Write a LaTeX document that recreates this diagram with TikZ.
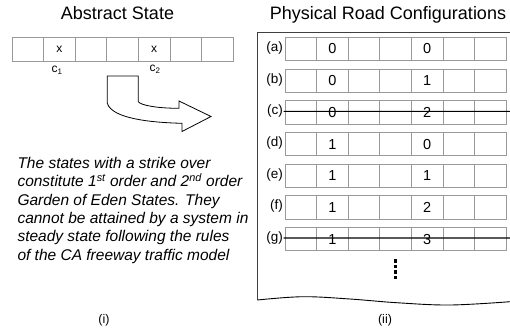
\documentclass[tikz,border=0pt]{standalone}
\usepackage{fontspec}
\setmainfont{Liberation Sans}
\begin{document}
\begin{tikzpicture}[x=1pt,y=-1pt,
  cell/.style={draw=black!40, line width=0.8pt, minimum width=31.6pt, minimum height=23.5pt, inner sep=0pt, outer sep=0pt, font=\fontsize{14.5}{16}\selectfont},
  acell/.style={cell, font=\fontsize{12}{14}\selectfont},
  title/.style={font=\fontsize{18}{20}\selectfont, anchor=base, inner sep=0pt},
  rowlab/.style={font=\fontsize{13.5}{15}\selectfont, anchor=east, inner sep=0.5pt},
  strike/.style={draw=black, line width=1.1pt},
  frame/.style={draw=black!75, line width=1.4pt},
  dotsq/.style={fill=black, draw=none, minimum size=3.5pt, inner sep=0pt}]
\useasboundingbox (0,0) rectangle (510,332);

% titles
\node[title] (t1) at (117.5,19) {Abstract State};
\node[title] (t2) at (388,19) {Physical Road Configurations};

% abstract state
\foreach \i in {1,...,7} {
  \node[acell] (s\i) at ({12+31.6*(\i-0.5)},49.5) {};
}
\node[font=\fontsize{12}{14}\selectfont] (x1) at (s2) {x};
\node[font=\fontsize{12}{14}\selectfont] (x2) at (s5) {x};
\node[font=\fontsize{12}{14}\selectfont, inner sep=0pt] (c1) at (57,70.5) {c\textsubscript{1}};
\node[font=\fontsize{12}{14}\selectfont, inner sep=0pt] (c2) at (155,69) {c\textsubscript{2}};

% curved arrow
\draw[line width=0.8pt, line join=miter] (107.3,76) -- (138.3,76) -- (138.3,101.7)
  .. controls (141,105.5) and (158,108.3) .. (179,108.3) -- (179,101) -- (211,116.5) -- (182,131.5) -- (182,123.3)
  .. controls (150,122.5) and (112,118.5) .. (107.3,103.3) -- cycle;

% explanation
\node[anchor=north west, align=left, inner sep=0pt, font=\fontsize{15.5}{18.33}\selectfont\itshape] (expl) at (17.3,157) {%
The states with a strike over\\
constitute 1\textsuperscript{st} order and 2\textsuperscript{nd} order\\
Garden of Eden States. They\\
cannot be attained by a system in\\
steady state following the rules\\
of the CA freeway traffic model};

% right panel frame
\draw[frame] (510,32.3) -- (257.3,32.3) -- (257.3,300);
\draw[line width=0.9pt] plot[smooth, tension=0.6] coordinates {(257.3,300) (303,296.7) (350,299) (396.7,302.7) (450,305) (510,301.7)};

% rows
\foreach \r/\lab/\d/\e [count=\k from 0] in {a/(a)/0/0, b/(b)/0/1, c/(c)/0/2, d/(d)/1/0, e/(e)/1/1, f/(f)/1/2, g/(g)/1/3} {
  \foreach \i in {1,...,7} {
    \node[cell] (\r\i) at ({285+31.6*(\i-0.5)},{49+31.67*\k}) {};
  }
  \node[cell, draw=none] at (\r2) {\d};
  \node[cell, draw=none] at (\r5) {\e};
  \node[rowlab] (l\r) at (283.5,{48+31.67*\k}) {\lab};
}
\coordinate (ce) at (510,111.3);
\coordinate (ge) at (510,238);
\draw[strike] (lc.east) -- (ce);
\draw[strike] (lg.east) -- (ge);

% vertical dots
\foreach \j/\yy in {1/260.75, 2/266.25, 3/271.75, 4/277.25} {
  \node[dotsq] (dt\j) at (395.7,\yy) {};
}

% sub captions
\node[font=\fontsize{12.5}{14}\selectfont] (cap1) at (104,320) {(i)};
\node[font=\fontsize{12.5}{14}\selectfont] (cap2) at (385,320) {(ii)};
\end{tikzpicture}
\end{document}
